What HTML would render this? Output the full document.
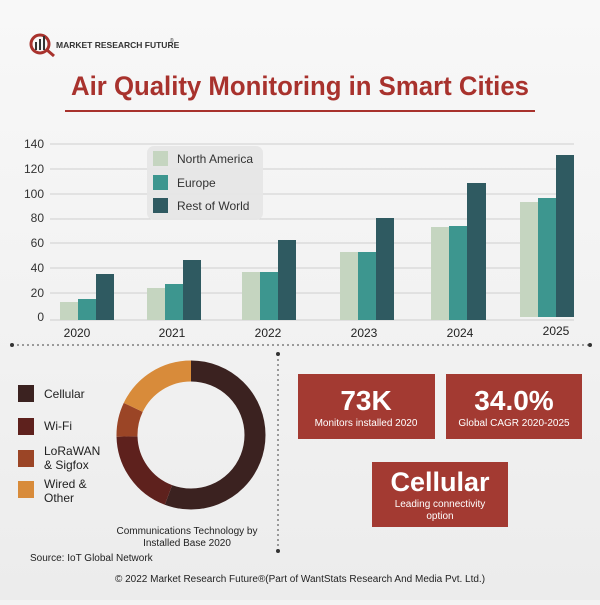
<!DOCTYPE html>
<html><head><meta charset="utf-8"><style>
body{margin:0;width:600px;height:600px;overflow:hidden;background:#f3f3f3;font-family:"Liberation Sans",sans-serif}
</style></head><body>
<svg width="600" height="600" viewBox="0 0 600 600" xmlns="http://www.w3.org/2000/svg" font-family="Liberation Sans, sans-serif">
<defs><linearGradient id="bg" x1="0" y1="0" x2="0" y2="1"><stop offset="0" stop-color="#f8f8f8"/><stop offset="0.6" stop-color="#f1f1f1"/><stop offset="1" stop-color="#ececec"/></linearGradient></defs>
<rect width="600" height="600" fill="url(#bg)"/>
<!-- logo -->
<circle cx="40" cy="44" r="9" fill="none" stroke="#a8322d" stroke-width="3"/>
<rect x="35" y="42" width="2" height="8" fill="#333"/><rect x="39" y="39" width="2" height="11" fill="#333"/><rect x="43" y="36" width="2" height="14" fill="#333"/>
<line x1="47" y1="50" x2="54" y2="56" stroke="#a8322d" stroke-width="3"/>
<text x="56" y="48" font-size="8.5" font-weight="bold" fill="#333">MARKET RESEARCH FUTURE</text>
<text x="170" y="42" font-size="5" fill="#333">®</text>
<!-- title -->
<text x="300" y="95" text-anchor="middle" font-size="27" font-weight="bold" fill="#a8322d" textLength="458" lengthAdjust="spacingAndGlyphs">Air Quality Monitoring in Smart Cities</text>
<rect x="65" y="110" width="470" height="2" fill="#a8322d"/>
<!-- grid -->
<g stroke="#cfcfcf" stroke-width="1">
<line x1="50" y1="144" x2="574" y2="144"/><line x1="50" y1="169" x2="574" y2="169"/><line x1="50" y1="194" x2="574" y2="194"/><line x1="50" y1="219" x2="574" y2="219"/><line x1="50" y1="243" x2="574" y2="243"/><line x1="50" y1="268" x2="574" y2="268"/><line x1="50" y1="293" x2="574" y2="293"/><line x1="50" y1="320" x2="574" y2="320"/>
</g>
<g font-size="12" fill="#333" text-anchor="end">
<text x="44" y="148">140</text><text x="44" y="173">120</text><text x="44" y="198">100</text><text x="44" y="222">80</text><text x="44" y="247">60</text><text x="44" y="272">40</text><text x="44" y="297">20</text><text x="44" y="321">0</text>
</g>
<g>
<rect x="60" y="302" width="18" height="18" fill="#c5d5c0"/><rect x="78" y="299" width="18" height="21" fill="#3d968f"/><rect x="96" y="274" width="18" height="46" fill="#2f5a61"/>
<rect x="147" y="288" width="18" height="32" fill="#c5d5c0"/><rect x="165" y="284" width="18" height="36" fill="#3d968f"/><rect x="183" y="260" width="18" height="60" fill="#2f5a61"/>
<rect x="242" y="272" width="18" height="48" fill="#c5d5c0"/><rect x="260" y="272" width="18" height="48" fill="#3d968f"/><rect x="278" y="240" width="18" height="80" fill="#2f5a61"/>
<rect x="340" y="252" width="18" height="68" fill="#c5d5c0"/><rect x="358" y="252" width="18" height="68" fill="#3d968f"/><rect x="376" y="218" width="18" height="102" fill="#2f5a61"/>
<rect x="431" y="227" width="18" height="93" fill="#c5d5c0"/><rect x="449" y="226" width="18" height="94" fill="#3d968f"/><rect x="467" y="183" width="19" height="137" fill="#2f5a61"/>
<rect x="520" y="202" width="18" height="115" fill="#c5d5c0"/><rect x="538" y="198" width="18" height="119" fill="#3d968f"/><rect x="556" y="155" width="18" height="162" fill="#2f5a61"/>
</g>
<g font-size="12" fill="#222" text-anchor="middle">
<text x="77" y="337">2020</text><text x="172" y="337">2021</text><text x="268" y="337">2022</text><text x="364" y="337">2023</text><text x="460" y="337">2024</text><text x="556" y="335">2025</text>
</g>
<!-- legend -->
<rect x="147" y="146" width="116" height="74" rx="7" fill="#e6e6e6" opacity="0.95"/>
<rect x="153" y="151" width="15" height="15" fill="#c5d5c0"/><text x="177" y="163" font-size="12" fill="#333">North America</text>
<rect x="153" y="175" width="15" height="15" fill="#3d968f"/><text x="177" y="187" font-size="12" fill="#333">Europe</text>
<rect x="153" y="198" width="15" height="15" fill="#2f5a61"/><text x="177" y="210" font-size="12" fill="#333">Rest of World</text>
<!-- dividers -->
<line x1="12" y1="345" x2="590" y2="345" stroke="#444" stroke-width="1" stroke-dasharray="2,3"/>
<circle cx="12" cy="345" r="2" fill="#333"/><circle cx="590" cy="345" r="2" fill="#333"/>
<line x1="278" y1="354" x2="278" y2="551" stroke="#444" stroke-width="1" stroke-dasharray="2,3"/>
<circle cx="278" cy="354" r="2" fill="#333"/><circle cx="278" cy="551" r="2" fill="#333"/>
<!-- donut legend -->
<rect x="18" y="385" width="16" height="17" fill="#3b2220"/><text x="44" y="398" font-size="12" fill="#222">Cellular</text>
<rect x="18" y="418" width="16" height="17" fill="#5e211d"/><text x="44" y="430" font-size="12" fill="#222">Wi-Fi</text>
<rect x="18" y="450" width="16" height="17" fill="#9b4526"/><text x="44" y="455" font-size="12" fill="#222">LoRaWAN</text><text x="44" y="469" font-size="12" fill="#222">&amp; Sigfox</text>
<rect x="18" y="481" width="16" height="17" fill="#d88b3a"/><text x="44" y="488" font-size="12" fill="#222">Wired &amp;</text><text x="44" y="502" font-size="12" fill="#222">Other</text>
<!-- donut r=64 mid, width 21 -->
<g fill="none" stroke-width="21" transform="rotate(-90 191 435)">
<circle cx="191" cy="435" r="64" stroke="#3b2220" stroke-dasharray="224.0 402.1"/>
<circle cx="191" cy="435" r="64" stroke="#5e211d" stroke-dasharray="0 224.0 76 402.1"/>
<circle cx="191" cy="435" r="64" stroke="#9b4526" stroke-dasharray="0 300 30 402.1"/>
<circle cx="191" cy="435" r="64" stroke="#d88b3a" stroke-dasharray="0 330 72.1 402.1"/>
</g>
<text x="187" y="534" text-anchor="middle" font-size="10" fill="#222">Communications Technology by</text>
<text x="187" y="546" text-anchor="middle" font-size="10" fill="#222">Installed Base 2020</text>
<text x="30" y="561" font-size="10" fill="#222">Source: IoT Global Network</text>
<text x="300" y="582" text-anchor="middle" font-size="10" fill="#222">© 2022 Market Research Future®(Part of WantStats Research And Media Pvt. Ltd.)</text>
<!-- stat boxes -->
<rect x="298" y="374" width="137" height="65" fill="#a33a32"/>
<text x="366" y="410" text-anchor="middle" font-size="28" font-weight="bold" fill="#fff">73K</text>
<text x="366" y="426" text-anchor="middle" font-size="10" fill="#fff">Monitors installed 2020</text>
<rect x="446" y="374" width="136" height="65" fill="#a33a32"/>
<text x="514" y="410" text-anchor="middle" font-size="28" font-weight="bold" fill="#fff">34.0%</text>
<text x="514" y="426" text-anchor="middle" font-size="10" fill="#fff">Global CAGR 2020-2025</text>
<rect x="372" y="462" width="136" height="65" fill="#a33a32"/>
<text x="440" y="491" text-anchor="middle" font-size="27" font-weight="bold" fill="#fff">Cellular</text>
<text x="440" y="507" text-anchor="middle" font-size="10" fill="#fff">Leading connectivity</text>
<text x="440" y="519" text-anchor="middle" font-size="10" fill="#fff">option</text>
</svg>
</body></html>
